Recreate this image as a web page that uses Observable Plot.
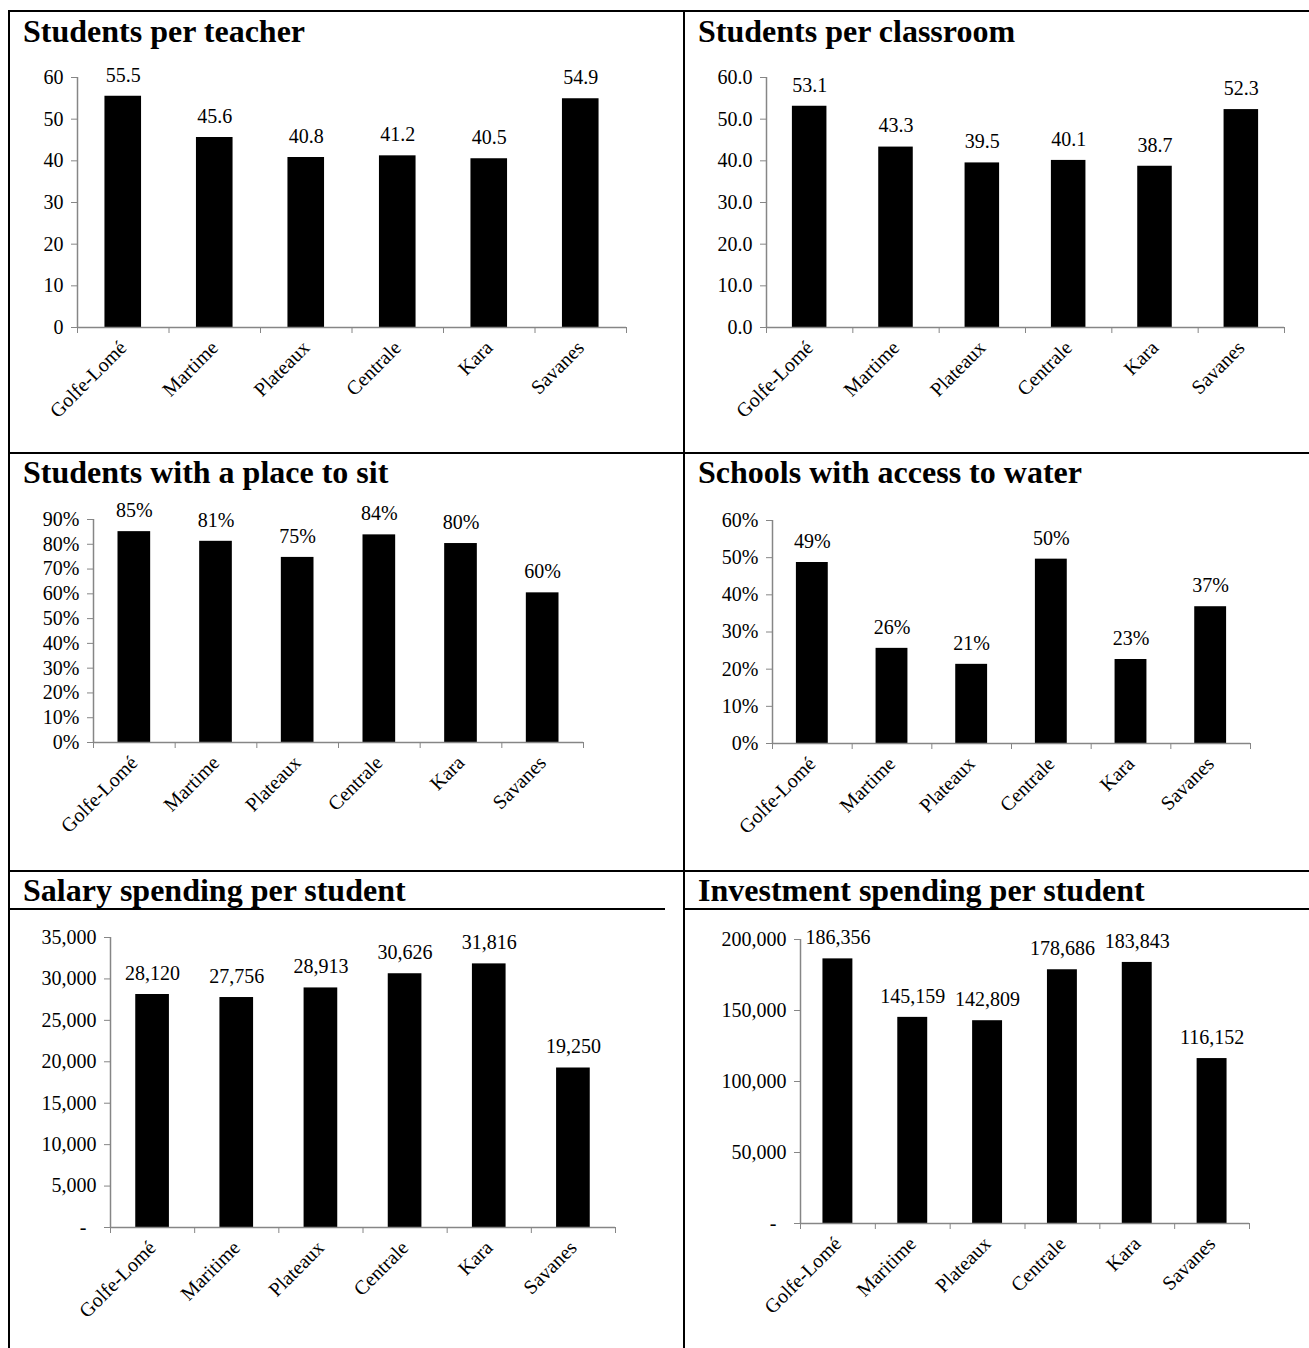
<!DOCTYPE html>
<html><head><meta charset="utf-8">
<script src="https://cdn.jsdelivr.net/npm/d3@7"></script>
<script src="https://cdn.jsdelivr.net/npm/@observablehq/plot@0.6"></script>
<style>
body{margin:0;background:#fff;}
#page{position:relative;width:1309px;height:1348px;overflow:hidden;font-family:"Liberation Serif","Times New Roman",serif;color:#000;}
.line{position:absolute;background:#000;}
.title{position:absolute;font-weight:bold;font-size:32px;line-height:1;white-space:nowrap;}
.chart{position:absolute;}
</style></head><body><div id="page"></div>
<script>
// ---- data ----
const regionsTop = ["Golfe-Lomé", "Martime", "Plateaux", "Centrale", "Kara", "Savanes"];
const regionsBottom = ["Golfe-Lomé", "Maritime", "Plateaux", "Centrale", "Kara", "Savanes"];
const studentsPerTeacher = [55.5, 45.6, 40.8, 41.2, 40.5, 54.9];
const studentsPerClassroom = [53.1, 43.3, 39.5, 40.1, 38.7, 52.3];
const placeToSit = [0.851, 0.812, 0.747, 0.838, 0.803, 0.604];
const accessToWater = [0.487, 0.256, 0.213, 0.496, 0.226, 0.368];
const salaryPerStudent = [28120, 27756, 28913, 30626, 31816, 19250];
const investmentPerStudent = [186356, 145159, 142809, 178686, 183843, 116152];
const ticksTeacher = [0, 10, 20, 30, 40, 50, 60];
const ticksClassroom = [0, 10, 20, 30, 40, 50, 60];
const ticksSit = [0, 1, 2, 3, 4, 5, 6, 7, 8, 9].map(k => k / 10);
const ticksWater = [0, 1, 2, 3, 4, 5, 6].map(k => k / 10);
const ticksSalary = [0, 5000, 10000, 15000, 20000, 25000, 30000, 35000];
const ticksInvestment = [0, 50000, 100000, 150000, 200000];
const titles = ["Students per teacher", "Students per classroom", "Students with a place to sit",
  "Schools with access to water", "Salary spending per student", "Investment spending per student"];

const page = document.getElementById("page");
function line(x, y, w, h) {
  const d = document.createElement("div");
  d.className = "line";
  Object.assign(d.style, {left: x + "px", top: y + "px", width: w + "px", height: h + "px"});
  page.appendChild(d);
}
function title(text, x, baseline) {
  const d = document.createElement("div");
  d.className = "title";
  d.textContent = text;
  d.style.left = x + "px";
  d.style.top = (baseline - 27) + "px";
  page.appendChild(d);
}

// borders
line(8, 10, 1301, 2);      // top
line(8, 10, 2, 1338);      // left
line(683, 10, 2, 1338);    // middle
line(8, 452, 1301, 2);     // row 1/2
line(8, 870, 1301, 2);     // row 2/3
line(8, 908, 657, 2);      // under salary title
line(684, 908, 625, 2);    // under investment title

const fmt1 = d3.format(".1f");
const fmtPct = d3.format(".0%");
const fmtComma = d3.format(",");
const fmtMoneyTick = v => v === 0 ? "-\u00a0\u00a0" : fmtComma(v);

function chart({values, labels, max, ticks, tickFormat, labelFormat, box, x0, x1, y0, yTop}) {
  const [bx0, by0, bx1, by1] = box;
  const data = values.map((v, i) => ({i, v}));
  const gray = "#868686";
  const inset = (x1 - x0) / 6 * 0.3;
  const svg = Plot.plot({
    width: bx1 - bx0, height: by1 - by0,
    marginLeft: x0 - bx0, marginRight: bx1 - x1, marginTop: yTop - by0, marginBottom: by1 - y0,
    style: {fontFamily: "'Liberation Serif', 'Times New Roman', serif", fontSize: "20px", color: "#000", background: "transparent", overflow: "visible"},
    x: {type: "linear", domain: [0, 6], axis: null},
    y: {domain: [0, max], axis: null},
    marks: [
      Plot.rectY(data, {x1: "i", x2: d => d.i + 1, y: "v", insetLeft: inset, insetRight: inset, fill: "#000"}),
      Plot.ruleY([0], {stroke: gray, strokeWidth: 1.5}),
      Plot.ruleX([0], {y1: 0, y2: max, stroke: gray, strokeWidth: 1.5}),
      Plot.axisY({ticks, tickFormat, tickSize: 6, tickPadding: 8, stroke: gray, strokeOpacity: 1, fill: "#000", label: null}),
      Plot.axisX({ticks: d3.range(7), tickSize: 6, tickFormat: () => "", stroke: gray, strokeOpacity: 1, label: null}),
      Plot.axisX({ticks: d3.range(6).map(i => i + 0.5), tickSize: 0, tickPadding: 17, tickRotate: -45,
        tickFormat: v => labels[Math.floor(v)], fill: "#000", label: null}),
      Plot.text(data, {x: d => d.i + 0.5, y: "v", text: d => labelFormat(d.v), dy: -21, fill: "#000"})
    ]
  });
  svg.classList.add("chart");
  svg.style.left = bx0 + "px";
  svg.style.top = by0 + "px";
  page.appendChild(svg);
}

title(titles[0], 23, 42);
title(titles[1], 698, 42);
title(titles[2], 23, 483);
title(titles[3], 698, 483);
title(titles[4], 23, 901);
title(titles[5], 698, 901);

chart({values: studentsPerTeacher, labels: regionsTop, max: 60, ticks: ticksTeacher, tickFormat: d3.format("d"), labelFormat: fmt1,
  box: [10, 50, 683, 452], x0: 77, x1: 626, y0: 327, yTop: 77});
chart({values: studentsPerClassroom, labels: regionsTop, max: 60, ticks: ticksClassroom, tickFormat: fmt1, labelFormat: fmt1,
  box: [686, 50, 1309, 452], x0: 766, x1: 1284, y0: 327, yTop: 77});
chart({values: placeToSit, labels: regionsTop, max: 0.9, ticks: ticksSit, tickFormat: fmtPct, labelFormat: fmtPct,
  box: [10, 492, 683, 870], x0: 93, x1: 583, y0: 742, yTop: 519});
chart({values: accessToWater, labels: regionsTop, max: 0.6, ticks: ticksWater, tickFormat: fmtPct, labelFormat: fmtPct,
  box: [686, 492, 1309, 870], x0: 772, x1: 1250, y0: 743, yTop: 520});
chart({values: salaryPerStudent, labels: regionsBottom, max: 35000, ticks: ticksSalary, tickFormat: fmtMoneyTick, labelFormat: fmtComma,
  box: [10, 912, 683, 1348], x0: 110, x1: 615, y0: 1227, yTop: 937});
chart({values: investmentPerStudent, labels: regionsBottom, max: 200000, ticks: ticksInvestment, tickFormat: fmtMoneyTick, labelFormat: fmtComma,
  box: [686, 912, 1309, 1348], x0: 800, x1: 1249, y0: 1223, yTop: 939});
</script>
</body></html>
